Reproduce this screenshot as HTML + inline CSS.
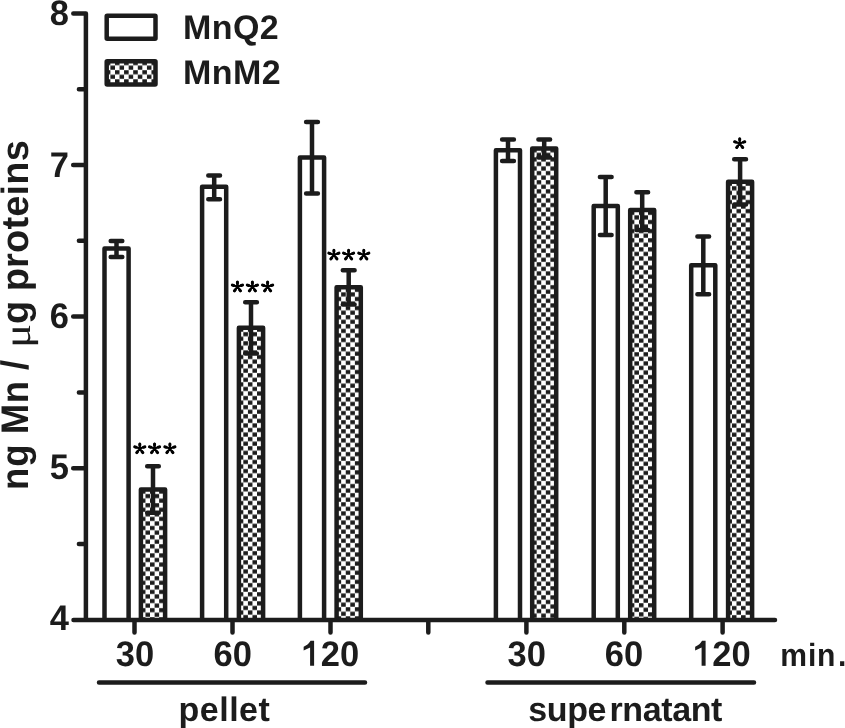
<!DOCTYPE html>
<html><head><meta charset="utf-8"><style>
html,body{margin:0;padding:0;background:#fff;width:845px;height:728px;overflow:hidden}
svg{position:absolute;left:0;top:0;filter:grayscale(1)}
.s{fill:none;stroke:#1c1c1c;stroke-width:4.5;stroke-linecap:round;stroke-linejoin:round}
.s2{stroke:#1c1c1c;stroke-width:4.5;stroke-linejoin:round}
.tx{font-family:"Liberation Sans",sans-serif;font-weight:bold;fill:#1c1c1c;text-rendering:geometricPrecision}
</style></head><body>
<svg width="845" height="728" viewBox="0 0 845 728"><defs><pattern id="p1" patternUnits="userSpaceOnUse" x="154.60" y="575.95" width="9.125" height="9.125"><rect width="9.125" height="9.125" fill="#fff"/><path d="M0.0000,0.2000H4.5625V4.3625H0.0000ZM4.5625,4.7625H9.1250V8.9250H4.5625Z" fill="#1c1c1c"/></pattern><pattern id="p3" patternUnits="userSpaceOnUse" x="252.45" y="578.30" width="9.125" height="9.125"><rect width="9.125" height="9.125" fill="#fff"/><path d="M0.0000,0.2000H4.5625V4.3625H0.0000ZM4.5625,4.7625H9.1250V8.9250H4.5625Z" fill="#1c1c1c"/></pattern><pattern id="p5" patternUnits="userSpaceOnUse" x="350.30" y="584.15" width="9.125" height="9.125"><rect width="9.125" height="9.125" fill="#fff"/><path d="M0.0000,0.2000H4.5625V4.3625H0.0000ZM4.5625,4.7625H9.1250V8.9250H4.5625Z" fill="#1c1c1c"/></pattern><pattern id="p7" patternUnits="userSpaceOnUse" x="545.80" y="398.95" width="9.125" height="9.125"><rect width="9.125" height="9.125" fill="#fff"/><path d="M0.0000,0.2000H4.5625V4.3625H0.0000ZM4.5625,4.7625H9.1250V8.9250H4.5625Z" fill="#1c1c1c"/></pattern><pattern id="p9" patternUnits="userSpaceOnUse" x="643.50" y="580.15" width="9.125" height="9.125"><rect width="9.125" height="9.125" fill="#fff"/><path d="M0.0000,0.2000H4.5625V4.3625H0.0000ZM4.5625,4.7625H9.1250V8.9250H4.5625Z" fill="#1c1c1c"/></pattern><pattern id="p11" patternUnits="userSpaceOnUse" x="741.05" y="423.30" width="9.125" height="9.125"><rect width="9.125" height="9.125" fill="#fff"/><path d="M0.0000,0.2000H4.5625V4.3625H0.0000ZM4.5625,4.7625H9.1250V8.9250H4.5625Z" fill="#1c1c1c"/></pattern><pattern id="pl" patternUnits="userSpaceOnUse" x="110.40" y="65.40" width="9.125" height="9.125"><rect width="9.125" height="9.125" fill="#fff"/><path d="M0.0000,0.2000H4.5625V4.3625H0.0000ZM4.5625,4.7625H9.1250V8.9250H4.5625Z" fill="#1c1c1c"/></pattern><filter id="bl" x="-5%" y="-5%" width="110%" height="110%"><feGaussianBlur stdDeviation="0.4"/></filter></defs><rect width="845" height="728" fill="#fff"/><g><path d="M116.5,241.0V257.0M110.7,241.0H122.3M110.7,257.0H122.3" class="s"/><path d="M104.5,619.9V248.5H128.6V619.9" fill="#fff" class="s2"/><path d="M116.5,248.5V257.0M110.7,257.0H122.3" class="s"/><path d="M153.0,466.3V512.7M147.2,466.3H158.8M147.2,512.7H158.8" class="s"/><path d="M140.9,619.9V489.5H165.1V619.9" fill="url(#p1)" class="s2"/><path d="M153.0,489.5V512.7M147.2,512.7H158.8" class="s"/><path d="M214.2,175.4V199.2M208.3,175.4H220.0M208.3,199.2H220.0" class="s"/><path d="M202.1,619.9V186.7H226.2V619.9" fill="#fff" class="s2"/><path d="M214.2,186.7V199.2M208.3,199.2H220.0" class="s"/><path d="M251.0,302.2V353.4M245.2,302.2H256.9M245.2,353.4H256.9" class="s"/><path d="M238.9,619.9V327.8H263.1V619.9" fill="url(#p3)" class="s2"/><path d="M251.0,327.8V353.4M245.2,353.4H256.9" class="s"/><path d="M312.0,122.0V193.4M306.1,122.0H317.9M306.1,193.4H317.9" class="s"/><path d="M299.9,619.9V157.6H324.1V619.9" fill="#fff" class="s2"/><path d="M312.0,157.6V193.4M306.1,193.4H317.9" class="s"/><path d="M348.7,270.2V304.4M342.8,270.2H354.6M342.8,304.4H354.6" class="s"/><path d="M336.6,619.9V287.3H360.8V619.9" fill="url(#p5)" class="s2"/><path d="M348.7,287.3V304.4M342.8,304.4H354.6" class="s"/><path d="M508.0,139.4V161.0M502.1,139.4H513.9M502.1,161.0H513.9" class="s"/><path d="M495.9,619.9V150.2H520.0V619.9" fill="#fff" class="s2"/><path d="M508.0,150.2V161.0M502.1,161.0H513.9" class="s"/><path d="M544.2,139.4V157.4M538.4,139.4H550.1M538.4,157.4H550.1" class="s"/><path d="M532.2,619.9V148.4H556.2V619.9" fill="url(#p7)" class="s2"/><path d="M544.2,148.4V157.4M538.4,157.4H550.1" class="s"/><path d="M605.7,176.9V234.9M599.9,176.9H611.6M599.9,234.9H611.6" class="s"/><path d="M593.7,619.9V206.0H617.8V619.9" fill="#fff" class="s2"/><path d="M605.7,206.0V234.9M599.9,234.9H611.6" class="s"/><path d="M642.2,192.3V230.0M636.4,192.3H648.1M636.4,230.0H648.1" class="s"/><path d="M630.2,619.9V210.0H654.2V619.9" fill="url(#p9)" class="s2"/><path d="M642.2,210.0V230.0M636.4,230.0H648.1" class="s"/><path d="M703.3,236.5V294.2M697.4,236.5H709.1M697.4,294.2H709.1" class="s"/><path d="M691.2,619.9V265.3H715.3V619.9" fill="#fff" class="s2"/><path d="M703.3,265.3V294.2M697.4,294.2H709.1" class="s"/><path d="M740.1,159.2V204.4M734.2,159.2H746.0M734.2,204.4H746.0" class="s"/><path d="M728.1,619.9V181.8H752.1V619.9" fill="url(#p11)" class="s2"/><path d="M740.1,181.8V204.4M734.2,204.4H746.0" class="s"/></g><path d="M73.3,13.4H85.9V619.9M73.5,619.9H775M73.2,165.0H85.9M73.2,316.6H85.9M73.2,468.2H85.9M78.9,89.2H85.9M78.9,240.8H85.9M78.9,392.4H85.9M78.9,544.0H85.9M134.5,619.9V632.4M232.5,619.9V632.4M330.5,619.9V632.4M428.3,619.9V632.4M526.4,619.9V632.4M624.3,619.9V632.4M722.6,619.9V632.4M99,682.4H365M487.5,682.4H754" class="s"/><rect x="106.7" y="15.7" width="48.8" height="23" rx="0.5" fill="#fff" class="s2"/><rect x="106.7" y="61.3" width="48.8" height="23.1" rx="0.5" fill="url(#pl)" class="s2"/><g class="tx"><text x="183.05" y="38.9" font-size="34" text-anchor="start" letter-spacing="0.4" >MnQ2</text><text x="183.05" y="83.9" font-size="34" text-anchor="start" letter-spacing="0.4" >MnM2</text><text x="0" y="0" transform="translate(68.9,24.7) scale(0.9714,1)" font-size="35.5" text-anchor="end" >8</text><text x="0" y="0" transform="translate(68.9,176.6) scale(0.9714,1)" font-size="35.5" text-anchor="end" >7</text><text x="0" y="0" transform="translate(68.9,327.6) scale(0.9714,1)" font-size="35.5" text-anchor="end" >6</text><text x="0" y="0" transform="translate(68.9,478.6) scale(0.9714,1)" font-size="35.5" text-anchor="end" >5</text><text x="0" y="0" transform="translate(68.9,630.3) scale(0.9714,1)" font-size="35.5" text-anchor="end" >4</text><text x="0" y="0" transform="translate(135.0,665.8) scale(0.9714,1)" font-size="35.5" text-anchor="middle" >30</text><text x="0" y="0" transform="translate(232.75,665.8) scale(0.9714,1)" font-size="35.5" text-anchor="middle" >60</text><text x="0" y="0" transform="translate(320.85,665.8) scale(0.9714,1)" font-size="35.5" text-anchor="start" >20</text><text x="0" y="0" transform="translate(526.7,665.8) scale(0.9714,1)" font-size="35.5" text-anchor="middle" >30</text><text x="0" y="0" transform="translate(624.0,665.8) scale(0.9714,1)" font-size="35.5" text-anchor="middle" >60</text><text x="0" y="0" transform="translate(712.35,665.8) scale(0.9714,1)" font-size="35.5" text-anchor="start" >20</text><text transform="translate(780.2,665.9) scale(0.94,1)" x="0 29.57 39.26 61.6" y="0" font-size="32">min.</text><text x="178.55" y="721.0" font-size="34" text-anchor="start" letter-spacing="0.5" >pellet</text><text x="528.25" y="720.9" font-size="34" text-anchor="start" letter-spacing="-0.38" >supe<tspan dx="3.4">rnatant</tspan></text><text transform="translate(28.2,489.9) rotate(-90) scale(0.95,1)" x="0 24.48 58.63 91.26 126.2" y="0" font-size="38.5">ngMn/</text><text transform="translate(30.0,347.8) rotate(-90) scale(1.17,1)" font-size="38" font-family="Liberation Serif" font-weight="normal">&#956;</text><text transform="translate(28.2,326.1) rotate(-90)" x="2.0 34.74" y="0" font-size="38" letter-spacing="0.18">gproteins</text></g><path d="M310.10,665.80V647.42L303.65,650.56V646.69Q308.55,644.60 310.55,640.74H314.10V665.80ZM701.60,665.80V647.42L695.15,650.56V646.69Q700.05,644.60 702.05,640.74H705.60V665.80Z" fill="#1c1c1c"/><path d="M139.80,448.50L139.80,443.90M139.80,448.50L144.84,446.86M139.80,448.50L142.80,452.63M139.80,448.50L136.80,452.63M139.80,448.50L134.76,446.86M154.55,448.50L154.55,443.90M154.55,448.50L159.59,446.86M154.55,448.50L157.55,452.63M154.55,448.50L151.55,452.63M154.55,448.50L149.51,446.86M169.90,448.50L169.90,443.90M169.90,448.50L174.94,446.86M169.90,448.50L172.90,452.63M169.90,448.50L166.90,452.63M169.90,448.50L164.86,446.86M237.45,286.70L237.45,282.10M237.45,286.70L242.49,285.06M237.45,286.70L240.45,290.83M237.45,286.70L234.45,290.83M237.45,286.70L232.41,285.06M252.40,286.70L252.40,282.10M252.40,286.70L257.44,285.06M252.40,286.70L255.40,290.83M252.40,286.70L249.40,290.83M252.40,286.70L247.36,285.06M267.60,286.70L267.60,282.10M267.60,286.70L272.64,285.06M267.60,286.70L270.60,290.83M267.60,286.70L264.60,290.83M267.60,286.70L262.56,285.06M333.90,254.80L333.90,250.20M333.90,254.80L338.94,253.16M333.90,254.80L336.90,258.93M333.90,254.80L330.90,258.93M333.90,254.80L328.86,253.16M348.60,254.80L348.60,250.20M348.60,254.80L353.64,253.16M348.60,254.80L351.60,258.93M348.60,254.80L345.60,258.93M348.60,254.80L343.56,253.16M363.80,254.80L363.80,250.20M363.80,254.80L368.84,253.16M363.80,254.80L366.80,258.93M363.80,254.80L360.80,258.93M363.80,254.80L358.76,253.16M739.70,143.40L739.70,138.80M739.70,143.40L744.74,141.76M739.70,143.40L742.70,147.53M739.70,143.40L736.70,147.53M739.70,143.40L734.66,141.76" fill="none" stroke="#000" stroke-width="2.1" stroke-linecap="round"/><path d="M139.80,445.20L139.80,443.90M143.60,447.26L144.84,446.86M142.03,451.57L142.80,452.63M137.57,451.57L136.80,452.63M136.00,447.26L134.76,446.86M154.55,445.20L154.55,443.90M158.35,447.26L159.59,446.86M156.78,451.57L157.55,452.63M152.32,451.57L151.55,452.63M150.75,447.26L149.51,446.86M169.90,445.20L169.90,443.90M173.70,447.26L174.94,446.86M172.13,451.57L172.90,452.63M167.67,451.57L166.90,452.63M166.10,447.26L164.86,446.86M237.45,283.40L237.45,282.10M241.25,285.46L242.49,285.06M239.68,289.77L240.45,290.83M235.22,289.77L234.45,290.83M233.65,285.46L232.41,285.06M252.40,283.40L252.40,282.10M256.20,285.46L257.44,285.06M254.63,289.77L255.40,290.83M250.17,289.77L249.40,290.83M248.60,285.46L247.36,285.06M267.60,283.40L267.60,282.10M271.40,285.46L272.64,285.06M269.83,289.77L270.60,290.83M265.37,289.77L264.60,290.83M263.80,285.46L262.56,285.06M333.90,251.50L333.90,250.20M337.70,253.56L338.94,253.16M336.13,257.87L336.90,258.93M331.67,257.87L330.90,258.93M330.10,253.56L328.86,253.16M348.60,251.50L348.60,250.20M352.40,253.56L353.64,253.16M350.83,257.87L351.60,258.93M346.37,257.87L345.60,258.93M344.80,253.56L343.56,253.16M363.80,251.50L363.80,250.20M367.60,253.56L368.84,253.16M366.03,257.87L366.80,258.93M361.57,257.87L360.80,258.93M360.00,253.56L358.76,253.16M739.70,140.10L739.70,138.80M743.50,142.16L744.74,141.76M741.93,146.47L742.70,147.53M737.47,146.47L736.70,147.53M735.90,142.16L734.66,141.76" fill="none" stroke="#000" stroke-width="3.0" stroke-linecap="round"/></svg>
</body></html>
